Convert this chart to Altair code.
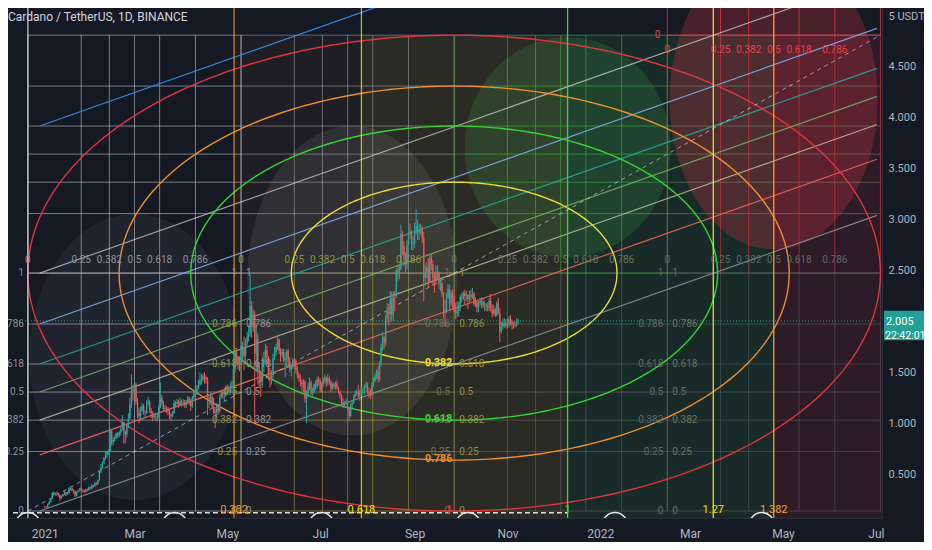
import altair as alt
import numpy as np
import pandas as pd

FONT = "Roboto, sans-serif"
BG = "#151924"
UP, DN = "#26a69a", "#ef5350"
DAY = 86400000


def ms(s):
    return int(pd.Timestamp(s, tz="UTC").value // 10**6)


# ---------------- ADA/USDT daily candles ----------------
FIRST_OPEN = 0.184
c_jan = [0.181,0.175,0.205,0.224,0.259,0.317,0.300,0.315,0.316,0.295,0.263,0.285,0.302,0.320,0.300,0.313,0.362,0.362,0.343,0.336,0.290,0.323,0.339,0.359,0.344,0.341,0.326,0.350,0.340,0.372,0.360]
h_jan = [0.185,0.183,0.210,0.240,0.262,0.320,0.330,0.320,0.330,0.318,0.300,0.290,0.306,0.332,0.325,0.325,0.370,0.380,0.370,0.352,0.337,0.330,0.345,0.362,0.370,0.352,0.345,0.355,0.360,0.380,0.375]
l_jan = [0.170,0.168,0.172,0.195,0.220,0.255,0.282,0.290,0.300,0.280,0.240,0.255,0.278,0.295,0.285,0.295,0.308,0.340,0.330,0.310,0.275,0.280,0.318,0.330,0.335,0.322,0.315,0.320,0.330,0.336,0.350]
c_feb = [0.389,0.383,0.412,0.405,0.439,0.532,0.562,0.619,0.658,0.695,0.714,0.721,0.925,0.813,0.833,0.866,0.898,0.881,0.912,0.941,1.010,0.924,0.890,0.970,1.050,1.180,1.330,1.320]
h_feb = [0.400,0.395,0.420,0.420,0.445,0.540,0.600,0.625,0.670,0.720,0.730,0.740,0.950,0.940,0.860,0.880,0.910,0.910,0.925,0.960,1.080,1.010,0.930,0.990,1.100,1.250,1.480,1.380]
l_feb = [0.345,0.368,0.378,0.390,0.390,0.436,0.510,0.555,0.600,0.640,0.660,0.690,0.715,0.780,0.780,0.820,0.845,0.855,0.860,0.880,0.930,0.800,0.800,0.860,0.950,1.040,1.150,1.220]
c_mar = [1.380,1.210,1.100,1.070,1.130,1.170,1.100,1.100,1.190,1.210,1.120,1.100,1.060,1.070,1.070,1.060,1.150,1.250,1.200,1.140,1.150,1.140,1.120,1.080,1.070,1.100,1.200,1.190,1.210,1.180,1.210]
h_mar = [1.420,1.400,1.250,1.150,1.160,1.200,1.190,1.130,1.230,1.260,1.230,1.150,1.120,1.100,1.100,1.090,1.180,1.400,1.280,1.220,1.180,1.170,1.160,1.140,1.100,1.120,1.230,1.220,1.240,1.230,1.250]
l_mar = [1.280,1.180,1.050,1.000,1.030,1.110,1.080,1.060,1.090,1.170,1.100,1.050,1.020,1.040,1.030,1.020,1.040,1.150,1.170,1.110,1.110,1.100,1.080,1.040,1.020,1.060,1.090,1.160,1.170,1.150,1.170]
c_apr = [1.200,1.200,1.180,1.210,1.240,1.220,1.170,1.250,1.300,1.310,1.340,1.380,1.430,1.430,1.460,1.450,1.430,1.250,1.230,1.260,1.170,1.120,1.100,1.170,1.120,1.250,1.300,1.280,1.280,1.360]
h_apr = [1.230,1.240,1.230,1.230,1.270,1.260,1.240,1.270,1.330,1.340,1.370,1.420,1.500,1.480,1.490,1.500,1.470,1.450,1.280,1.300,1.280,1.250,1.160,1.200,1.180,1.280,1.330,1.330,1.310,1.370]
l_apr = [1.160,1.170,1.150,1.150,1.190,1.180,1.120,1.150,1.230,1.260,1.280,1.330,1.370,1.380,1.410,1.390,1.390,1.080,1.150,1.180,1.140,1.090,0.950,1.060,1.080,1.100,1.240,1.240,1.220,1.260]
c_may = [1.330,1.310,1.360,1.360,1.530,1.700,1.640,1.570,1.620,1.650,1.750,1.660,1.780,1.850,1.880,2.150,1.960,2.070,1.680,1.830,1.520,1.490,1.410,1.600,1.620,1.720,1.640,1.460,1.430,1.490,1.640]
h_may = [1.380,1.370,1.400,1.420,1.560,1.740,1.740,1.650,1.660,1.760,1.800,1.850,1.830,1.900,1.960,2.460,2.200,2.120,2.100,1.960,1.880,1.600,1.520,1.650,1.700,1.780,1.760,1.660,1.540,1.520,1.680]
l_may = [1.290,1.290,1.290,1.300,1.340,1.500,1.590,1.530,1.510,1.580,1.600,1.520,1.600,1.750,1.800,1.850,1.840,1.900,1.000,1.500,1.380,1.350,1.260,1.350,1.500,1.580,1.590,1.420,1.350,1.380,1.440]
c_jun = [1.700,1.750,1.820,1.710,1.670,1.700,1.620,1.630,1.710,1.610,1.530,1.560,1.620,1.600,1.520,1.470,1.450,1.400,1.380,1.410,1.240,1.270,1.360,1.400,1.300,1.320,1.380,1.360,1.430,1.420]
h_jun = [1.750,1.780,1.870,1.830,1.740,1.730,1.730,1.700,1.720,1.730,1.650,1.580,1.640,1.640,1.630,1.560,1.500,1.480,1.430,1.430,1.420,1.320,1.400,1.450,1.420,1.350,1.390,1.420,1.460,1.460]
l_jun = [1.620,1.660,1.720,1.680,1.600,1.640,1.600,1.450,1.560,1.560,1.500,1.460,1.530,1.560,1.490,1.440,1.410,1.360,1.320,1.300,1.200,1.000,1.260,1.320,1.280,1.270,1.290,1.320,1.340,1.370]
c_jul = [1.330,1.390,1.420,1.450,1.400,1.440,1.410,1.340,1.380,1.360,1.390,1.350,1.310,1.280,1.210,1.180,1.200,1.210,1.150,1.070,1.180,1.200,1.260,1.290,1.310,1.280,1.300,1.310,1.310,1.360,1.380]
h_jul = [1.440,1.410,1.450,1.480,1.460,1.480,1.460,1.420,1.400,1.400,1.410,1.420,1.360,1.320,1.290,1.250,1.220,1.240,1.220,1.160,1.200,1.220,1.280,1.320,1.330,1.380,1.330,1.350,1.340,1.380,1.410]
l_jul = [1.300,1.300,1.360,1.390,1.360,1.370,1.380,1.300,1.320,1.340,1.330,1.330,1.290,1.240,1.180,1.150,1.150,1.180,1.130,1.020,1.060,1.150,1.190,1.250,1.270,1.250,1.220,1.270,1.280,1.290,1.340]
c_aug = [1.310,1.300,1.280,1.380,1.420,1.460,1.510,1.430,1.600,1.740,1.840,1.790,2.030,2.100,2.070,2.220,2.060,2.260,2.250,2.500,2.480,2.520,2.860,2.740,2.630,2.560,2.750,2.880,2.870,2.760,2.770]
h_aug = [1.400,1.350,1.330,1.400,1.450,1.490,1.530,1.560,1.610,1.780,1.890,1.860,2.070,2.180,2.170,2.300,2.290,2.300,2.300,2.520,2.560,2.560,2.950,2.890,2.790,2.680,2.800,2.920,2.960,2.900,2.840]
l_aug = [1.290,1.250,1.240,1.270,1.360,1.400,1.430,1.400,1.410,1.560,1.710,1.730,1.760,1.990,1.960,1.990,2.010,2.000,2.100,2.230,2.400,2.420,2.500,2.650,2.540,2.480,2.510,2.740,2.810,2.700,2.700]
c_sep = [2.900,2.940,2.870,2.900,2.920,2.820,2.430,2.480,2.530,2.400,2.620,2.560,2.430,2.400,2.490,2.470,2.370,2.370,2.280,2.120,2.100,2.240,2.320,2.180,2.280,2.220,2.120,2.080,2.100,2.150]
h_sep = [2.970,3.100,3.000,2.960,2.960,2.940,2.880,2.550,2.580,2.620,2.650,2.670,2.600,2.480,2.550,2.550,2.490,2.420,2.390,2.290,2.210,2.280,2.370,2.360,2.300,2.320,2.250,2.180,2.200,2.190]
l_sep = [2.720,2.850,2.800,2.800,2.850,2.770,2.200,2.350,2.420,2.330,2.380,2.500,2.350,2.280,2.360,2.410,2.320,2.300,2.240,2.030,1.950,2.080,2.220,2.100,2.150,2.120,2.090,2.020,2.040,2.050]
c_oct = [2.240,2.230,2.280,2.250,2.260,2.220,2.260,2.240,2.270,2.170,2.190,2.140,2.180,2.200,2.190,2.160,2.160,2.150,2.130,2.200,2.120,2.080,2.120,2.060,2.180,2.080,1.900,1.950,1.990,1.990,1.960]
h_oct = [2.260,2.280,2.300,2.310,2.300,2.270,2.300,2.310,2.330,2.290,2.240,2.210,2.200,2.230,2.240,2.230,2.200,2.180,2.190,2.230,2.270,2.170,2.160,2.140,2.200,2.230,2.130,2.000,2.030,2.030,2.020]
l_oct = [2.100,2.180,2.210,2.170,2.200,2.120,2.190,2.200,2.220,2.150,2.140,2.090,2.090,2.150,2.130,2.130,2.100,2.100,2.100,2.100,2.100,2.040,2.060,2.040,2.050,2.070,1.800,1.880,1.920,1.940,1.930]
c_nov = [1.970,2.020,2.000,1.970,1.970,1.960,2.000,2.005]
h_nov = [2.030,2.050,2.060,2.020,2.000,2.000,2.030,2.030]
l_nov = [1.930,1.940,1.960,1.920,1.930,1.940,1.950,1.970]

MONTHS = [("2021-01-01", c_jan, h_jan, l_jan), ("2021-02-01", c_feb, h_feb, l_feb),
          ("2021-03-01", c_mar, h_mar, l_mar), ("2021-04-01", c_apr, h_apr, l_apr),
          ("2021-05-01", c_may, h_may, l_may), ("2021-06-01", c_jun, h_jun, l_jun),
          ("2021-07-01", c_jul, h_jul, l_jul), ("2021-08-01", c_aug, h_aug, l_aug),
          ("2021-09-01", c_sep, h_sep, l_sep), ("2021-10-01", c_oct, h_oct, l_oct),
          ("2021-11-01", c_nov, h_nov, l_nov)]

LAST_PRICE = 2.005
LAST_PRICE_TEXT = "2.005"
COUNTDOWN_TEXT = "22:42:01"
TITLE = "Cardano / TetherUS, 1D, BINANCE"

# ---------------- axes ----------------
X0, X1 = ms("2020-12-11T05:00"), ms("2022-07-01T18:00")
Y_LO, Y_HI = 0.069, 5.079
X_TICKS = ["2021-01-01", "2021-03-01", "2021-05-01", "2021-07-01", "2021-09-01", "2021-11-01",
           "2022-01-01", "2022-03-01", "2022-05-01", "2022-07-01"]
Y_TICKS = [0.5, 1, 1.5, 2.5, 3, 3.5, 4, 4.5, 5]

# ---------------- drawing tools (anchors) ----------------
T0 = ms("2020-12-21")          # Gann grid / fib time origin
W = 140 * DAY                  # Gann cell width
P0, H = 0.1375, 2.3375         # Gann origin price and cell height
GANN_LEVELS = [0, 0.25, 0.382, 0.5, 0.618, 0.786, 1]
GANN_LABEL_COLORS = ["#8d909a", "#948f46", "#6b7060", "#626762"]

CIRCLE_LEVELS = [0.382, 0.618, 0.786, 1]
CIRCLE_COLORS = ["#ecdc34", "#34d434", "#ee8e2c", "#e0343e"]

FIBT_SPAN = 354.5 * DAY
FIBT_LEVELS = [0, 0.382, 0.618, 1, 1.27, 1.382]
FIBT_COLORS = ["rgba(225,225,230,0.85)", "rgba(240,165,40,0.8)", "rgba(240,222,50,0.8)",
               "rgba(60,220,60,0.95)", "rgba(245,225,45,0.95)", "rgba(245,160,40,0.95)"]
FIBT_LABEL_COLORS = ["#e0e0e0", "#f0a020", "#f2e000", "#3ddc3d", "#f2e000", "#f0a030"]

CH_T0 = ms("2020-12-28T18:00")
CH_LEVELS = [0, 0.236, 0.382, 0.5, 0.618, 0.786, 1, 1.618]
CH_COLORS = ["rgba(150,152,160,0.8)", "rgba(240,100,90,0.9)", "rgba(205,205,165,0.75)",
             "rgba(120,180,100,0.85)", "rgba(40,170,155,0.85)", "rgba(125,172,230,0.9)",
             "rgba(200,200,205,0.75)", "rgba(55,140,225,0.95)"]
CH_SLOPE = 0.00528             # price per day

CYCLE = 96.4 * DAY
DASH_PRICE = 0.12

# ---------------- build tables ----------------
rows = []
prev = FIRST_OPEN
for start, cs, hs, ls in MONTHS:
    base = ms(start)
    for i, (c, h, l) in enumerate(zip(cs, hs, ls)):
        o = prev
        rows.append(dict(t=base + i * DAY, o=o, c=c, h=max(h, o, c), l=min(l, o, c)))
        prev = c
candles = pd.DataFrame(rows)

xs = alt.Scale(type="utc", domain=[X0, X1], nice=False)
ys = alt.Scale(domain=[Y_LO, Y_HI], nice=False, zero=False)

x_axis = alt.Axis(values=[ms(v) for v in X_TICKS],
                  labelExpr="utcmonth(datum.value)==0 ? utcFormat(datum.value,'%Y') : utcFormat(datum.value,'%b')",
                  title=None, grid=False, ticks=False, domainColor="#2a2e39", labelColor="#b2b5be",
                  labelFont=FONT, labelFontSize=12, labelPadding=10, labelOverlap=False, labelFlush=False)
y_axis = alt.Axis(orient="right", values=Y_TICKS,
                  labelExpr="datum.value==5 ? '5 USDT' : format(datum.value, '.3f')",
                  title=None, grid=False, ticks=False, domainColor="#2a2e39", labelColor="#b2b5be",
                  labelFont=FONT, labelFontSize=11, labelPadding=6, labelOverlap=False)


def ex(f):
    return alt.X(f"{f}:T", scale=xs, axis=x_axis)


def ey(f):
    return alt.Y(f"{f}:Q", scale=ys, axis=y_axis)


def rules(df, width=1.0, dash=None):
    kw = dict(strokeWidth=width, clip=True)
    if dash:
        kw["strokeDash"] = dash
    return alt.Chart(df).mark_rule(**kw).encode(
        x=ex("t1"), x2=alt.X2("t2"), y=ey("p1"), y2=alt.Y2("p2"),
        color=alt.Color("color:N", scale=None))


def texts(df, align="center", dx=0, dy=0, size=10, weight="normal"):
    return alt.Chart(df).mark_text(align=align, dx=dx, dy=dy, fontSize=size, fontWeight=weight,
                                   baseline="middle", font=FONT, clip=True).encode(
        x=ex("t"), y=ey("p"), text="text:N", color=alt.Color("color:N", scale=None))


def lvl(v):
    return f"{v:g}"


layers = []

# fib time zone background fills
fills = pd.DataFrame([
    dict(t1=T0 + FIBT_SPAN * 0.382, t2=T0 + FIBT_SPAN * 0.618, color="rgba(255,160,40,0.045)"),
    dict(t1=T0 + FIBT_SPAN * 0.618, t2=T0 + FIBT_SPAN * 1.0, color="rgba(255,235,59,0.09)"),
    dict(t1=T0 + FIBT_SPAN * 1.0, t2=T0 + FIBT_SPAN * 1.382, color="rgba(60,190,80,0.11)"),
    dict(t1=T0 + FIBT_SPAN * 1.382, t2=T0 + FIBT_SPAN * 1.8, color="rgba(242,54,69,0.11)"),
])
fills["p1"] = Y_LO - 0.3
fills["p2"] = P0 + 2 * H
layers.append(alt.Chart(fills).mark_rect(clip=True).encode(
    x=ex("t1"), x2=alt.X2("t2"), y=ey("p1"), y2=alt.Y2("p2"), color=alt.Color("color:N", scale=None)))

# faint disks
DISKS = [(T0 + 70 * DAY, 1.65, 105 / 143, 286, "rgba(255,255,255,0.05)"),
         (T0 + 213 * DAY, 2.40, 105 / 155, 310, "rgba(255,255,235,0.08)"),
         (T0 + FIBT_SPAN, 3.71, 103 / 110, 220, "rgba(76,190,80,0.16)"),
         (T0 + FIBT_SPAN * 1.382, 4.18, 104 / 150, 300, "rgba(242,54,69,0.24)")]
k = 0.5523
for (dt, dp, a, d, col) in DISKS:
    path = (f"M {-a},0 C {-a},{-k} {-k*a},-1 0,-1 C {k*a},-1 {a},{-k} {a},0 "
            f"C {a},{k} {k*a},1 0,1 C {-k*a},1 {-a},{k} {-a},0 Z")
    layers.append(alt.Chart(pd.DataFrame({"t": [dt], "p": [dp]})).mark_point(
        shape=path, size=d * d, filled=True, color=col, opacity=1, strokeWidth=0, clip=True).encode(
        x=ex("t"), y=ey("p")))

# Gann grid
cell_col = {(0, 0): "rgba(205,207,215,0.55)", (0, 1): "rgba(190,178,70,0.5)",
            (0, 2): "rgba(140,145,130,0.35)", (0, 3): "rgba(140,140,145,0.3)",
            (1, 0): "rgba(205,207,215,0.55)", (1, 1): "rgba(205,207,215,0.42)",
            (1, 2): "rgba(70,200,75,0.5)", (1, 3): "rgba(150,175,120,0.38)"}
g = []
for r in range(2):
    for c in range(4):
        colr = cell_col[(r, c)]
        vcol = "rgba(242,54,69,0.55)" if (r, c) == (1, 3) else colr
        for lv in GANN_LEVELS:
            g.append(dict(t1=T0 + W * (c + lv), t2=T0 + W * (c + lv), p1=P0 + H * r, p2=P0 + H * (r + 1), color=vcol))
            g.append(dict(t1=T0 + W * c, t2=T0 + W * (c + 1), p1=P0 + H * (r + lv), p2=P0 + H * (r + lv), color=colr))
# red box above the grid
for lv in GANN_LEVELS:
    g.append(dict(t1=T0 + W * (3 + lv), t2=T0 + W * (3 + lv), p1=P0 + 2 * H, p2=Y_HI + 1, color="rgba(242,54,69,0.75)"))
g.append(dict(t1=T0 + 3 * W, t2=T0 + 4 * W, p1=P0 + 2 * H, p2=P0 + 2 * H, color="rgba(242,54,69,0.9)"))
layers.append(rules(pd.DataFrame(g), width=1))

# Fib channel
span_days = (X1 - CH_T0) / DAY
ch = pd.DataFrame([dict(t1=CH_T0, t2=X1, p1=P0 + H * lv, p2=P0 + H * lv + CH_SLOPE * span_days, color=col)
                   for lv, col in zip(CH_LEVELS, CH_COLORS)])
layers.append(rules(ch, width=1.2))

# Fib circles (ellipses in price/time space)
TC, PC = T0 + 2 * W, P0 + H
th = np.linspace(0, 2 * np.pi, 361)
ell = []
for lv, col in zip(CIRCLE_LEVELS, CIRCLE_COLORS):
    for i, a in enumerate(th):
        ell.append(dict(t=TC + 2 * W * lv * np.cos(a), p=PC + H * lv * np.sin(a), lv=lv, i=i, color=col))
layers.append(alt.Chart(pd.DataFrame(ell)).mark_line(strokeWidth=1.4, clip=True).encode(
    x=ex("t"), y=ey("p"), detail="lv:N", order="i:Q", color=alt.Color("color:N", scale=None)))

# Fib time verticals
ft = pd.DataFrame([dict(t1=T0 + FIBT_SPAN * lv, t2=T0 + FIBT_SPAN * lv, p1=Y_LO - 1, p2=Y_HI + 1, color=col)
                   for lv, col in zip(FIBT_LEVELS, FIBT_COLORS)])
layers.append(rules(ft, width=1.3))

# dashed lines: circle diagonal and fib-time base
diag = pd.DataFrame([dict(t1=T0, t2=T0 + 4 * W, p1=P0, p2=P0 + 2 * H, color="rgba(230,230,235,0.6)")])
layers.append(rules(diag, width=1, dash=[4, 4]))
base = pd.DataFrame([dict(t1=X0, t2=T0 + FIBT_SPAN, p1=DASH_PRICE, p2=DASH_PRICE, color="rgba(240,240,245,0.9)")])
layers.append(rules(base, width=1.6, dash=[5, 3]))

# current price line
cur = pd.DataFrame([dict(t1=X0, t2=X1, p1=LAST_PRICE, p2=LAST_PRICE, color="rgba(38,166,154,0.9)")])
layers.append(rules(cur, width=1, dash=[1, 2]))

# candles
ccol = alt.condition("datum.c >= datum.o", alt.value(UP), alt.value(DN))
layers.append(alt.Chart(candles).mark_rule(strokeWidth=1, clip=True).encode(
    x=ex("t"), y=ey("l"), y2=alt.Y2("h"), color=ccol))
layers.append(alt.Chart(candles).mark_bar(size=1.4, clip=True).encode(
    x=ex("t"), y=ey("o"), y2=alt.Y2("c"), color=ccol))

# Gann labels
top_l, left_l, right_l = [], [], []
for c in range(4):
    for lv in GANN_LEVELS[:-1]:
        top_l.append(dict(t=T0 + W * (c + lv), p=P0 + H, text=lvl(lv), color=GANN_LABEL_COLORS[c]))
    for lv in GANN_LEVELS:
        left_l.append(dict(t=T0 + W * c, p=P0 + H * lv, text=lvl(lv), color=GANN_LABEL_COLORS[c]))
        if c < 3:
            right_l.append(dict(t=T0 + W * (c + 1), p=P0 + H * lv, text=lvl(lv), color=GANN_LABEL_COLORS[c]))
layers.append(texts(pd.DataFrame(top_l), dy=-13))
layers.append(texts(pd.DataFrame(left_l), align="right", dx=-4))
layers.append(texts(pd.DataFrame(right_l), align="left", dx=5))

red_l = pd.DataFrame([dict(t=T0 + W * (3 + lv), p=P0 + 2 * H, text=lvl(lv), color="#e8404a")
                      for lv in GANN_LEVELS[:-1]])
layers.append(texts(red_l, dy=15))
layers.append(texts(pd.DataFrame([dict(t=T0 + 3 * W, p=P0 + 2 * H, text="0", color="#e8404a")]),
                    align="right", dx=-7))

# Fib circle level labels
circ_l = pd.DataFrame([dict(t=TC, p=PC - H * lv, text=lvl(lv), color=col)
                       for lv, col in zip(CIRCLE_LEVELS, CIRCLE_COLORS)])
layers.append(texts(circ_l, align="right", dx=-2, dy=-1, size=10.5, weight="bold"))

# Fib time labels
ft_l = pd.DataFrame([dict(t=T0 + FIBT_SPAN * lv, p=P0, text=lvl(lv), color=col)
                     for lv, col in zip(FIBT_LEVELS[1:], FIBT_LABEL_COLORS[1:])])
layers.append(texts(ft_l, dy=-1, size=11))

# small cycle arcs along the bottom
cyc = pd.DataFrame({"t": [T0 + CYCLE * i for i in range(6)], "p": [0.0] * 6})
layers.append(alt.Chart(cyc).mark_point(shape="circle", filled=False, size=620, strokeWidth=1.6,
                                        color="#e8e8ec", opacity=1, clip=True).encode(x=ex("t"), y=ey("p")))

# title
layers.append(alt.Chart(pd.DataFrame({"s": [TITLE]})).mark_text(
    align="left", baseline="middle", font=FONT, fontSize=12, color="#d1d4dc").encode(
    x=alt.value(0), y=alt.value(9), text="s:N"))

# last price tag on the price axis
tag = pd.DataFrame({"p": [LAST_PRICE], "ptop": [LAST_PRICE + 0.10], "pbot": [LAST_PRICE - 0.19],
                    "s1": [LAST_PRICE_TEXT], "s2": [COUNTDOWN_TEXT]})
layers.append(alt.Chart(tag).mark_rect(color="#22a095").encode(
    x=alt.value(876), x2=alt.value(916), y=ey("ptop"), y2=alt.Y2("pbot")))
layers.append(alt.Chart(tag).mark_text(align="left", baseline="middle", font=FONT, fontSize=11,
                                       color="#ffffff", dy=1).encode(x=alt.value(878), y=ey("p"), text="s1:N"))
layers.append(alt.Chart(tag).mark_text(align="left", baseline="middle", font=FONT, fontSize=10.5,
                                       color="#ffffff", dy=15).encode(x=alt.value(877), y=ey("p"), text="s2:N"))

chart = alt.layer(*layers).properties(
    width=874, height=510,
    padding={"left": 0, "top": 0, "right": 42, "bottom": 24},
    autosize=alt.AutoSizeParams(type="none"),
).configure(background=BG).configure_view(stroke=None)

chart.save("out.html", embed_options={"renderer": "svg", "actions": False})
